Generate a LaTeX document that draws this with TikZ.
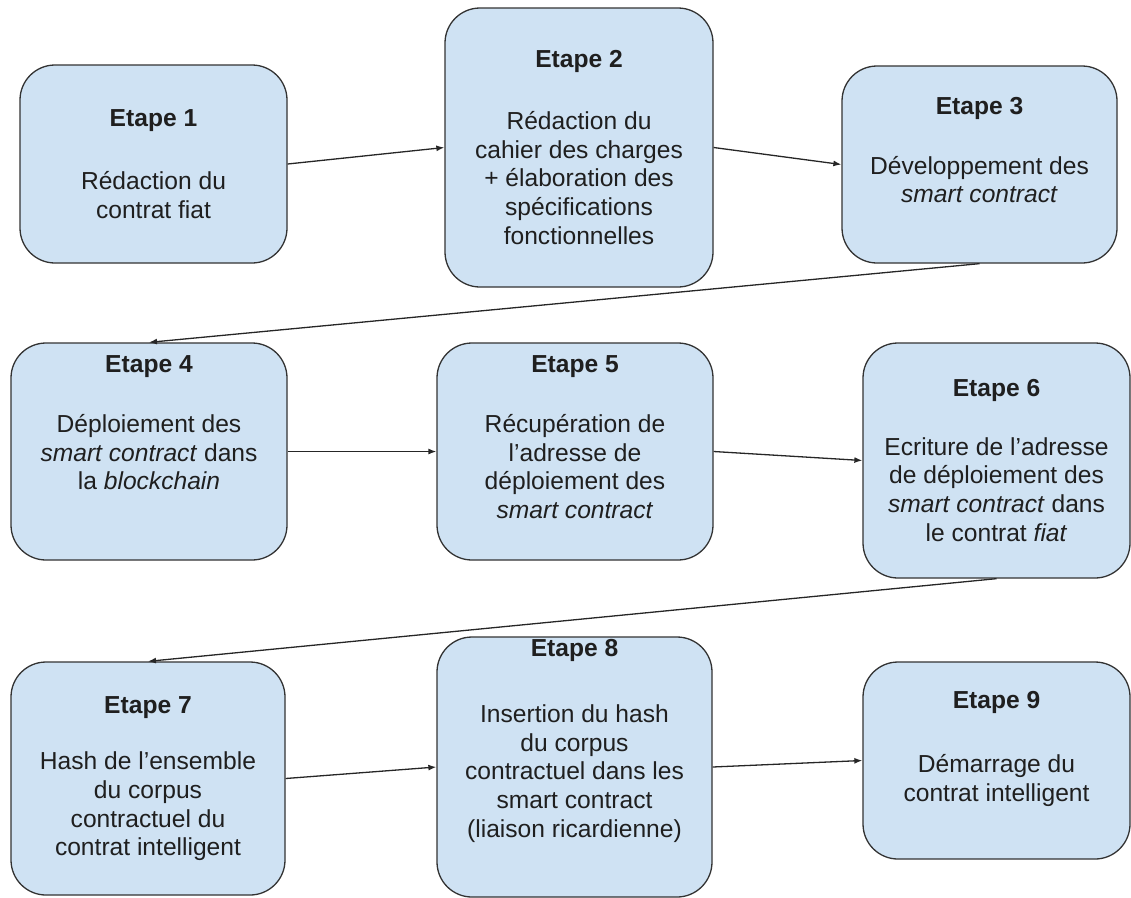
\documentclass[tikz,border=0pt]{standalone}
\usepackage{fontspec}
\setmainfont{Liberation Sans}
\usepackage{tikz}
\usetikzlibrary{arrows.meta,positioning}
\definecolor{boxblue}{HTML}{CFE2F3}
\definecolor{boxline}{HTML}{333333}

\begin{document}
\begin{tikzpicture}[x=1pt,y=-1pt,
	etape/.style={draw=boxline,fill=boxblue,line width=1.3pt,rounded corners=35pt,align=center,inner sep=0pt,
		font=\fontsize{24.6}{28.7}\selectfont,text=black!88},
	fleche/.style={-{Latex[length=8pt,width=6pt]},line width=1.3pt,draw=black!85}]
	\useasboundingbox (0,0) rectangle (1131,897);
	% Knoten
		\node (1) at (153.5,164) [etape,minimum width=267pt,minimum height=198pt] {\textbf{Etape 1}\\[34pt]Rédaction du\\contrat fiat};
		\node (2) at (579,147.5) [etape,minimum width=268pt,minimum height=279pt] {\textbf{Etape 2}\\[33pt]Rédaction du\\cahier des charges\\+ élaboration des\\spécifications\\fonctionnelles};
		\node (3) at (979.5,164.5) [etape,minimum width=275pt,minimum height=197pt] {\textbf{Etape 3}\\[31pt]Développement des\\\textit{smart contract}\\~};
		\node (4) at (149,451.5) [etape,minimum width=276pt,minimum height=217pt] {\textbf{Etape 4}\\[31pt]Déploiement des\\\textit{smart contract} dans\\la \textit{blockchain}\\~\\~};
		\node (5) at (575,451.5) [etape,minimum width=276pt,minimum height=217pt] {\textbf{Etape 5}\\[31pt]Récupération de\\l’adresse de\\déploiement des\\\textit{smart contract}\\~};
		\node (6) at (996.5,460.5) [etape,minimum width=267pt,minimum height=235pt] {\textbf{Etape 6}\\[30pt]Ecriture de l’adresse\\de déploiement des\\\textit{smart contract} dans\\le contrat \textit{fiat}};
		\node (7) at (148,778.5) [etape,minimum width=274pt,minimum height=233pt] {\textbf{Etape 7}\\[28pt]Hash de l’ensemble\\du corpus\\contractuel du\\contrat intelligent};
		\node (8) at (574.5,767) [etape,minimum width=275pt,minimum height=260pt] {\textbf{Etape 8}\\[37pt]Insertion du hash\\du corpus\\contractuel dans les\\smart contract\\(liaison ricardienne)\\~\\~};
		\node (9) at (996.5,760.5) [etape,minimum width=267pt,minimum height=197pt] {\textbf{Etape 9}\\[36pt]Démarrage du\\contrat intelligent\\~};
	% Kanten
		\draw[fleche] (1.east) -- (2.west);
		\draw[fleche] (2.east) -- (3.west);
		\draw[fleche] (3.south) -- (4.north);
		\draw[fleche] (4.east) -- (5.west);
		\draw[fleche] (5.east) -- (6.west);
		\draw[fleche] (6.south) -- (7.north);
		\draw[fleche] (7.east) -- (8.west);
		\draw[fleche] (8.east) -- (9.west);
\end{tikzpicture}
\end{document}
